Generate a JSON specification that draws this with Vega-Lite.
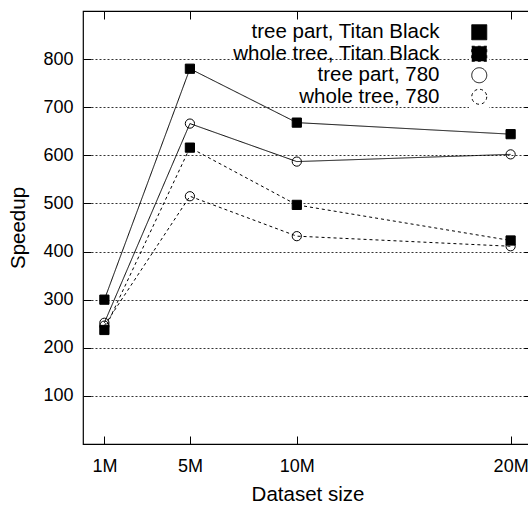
{
  "$schema": "https://vega.github.io/schema/vega-lite/v6.json",
  "width": 449,
  "height": 433,
  "autosize": {"type": "none"},
  "padding": {"left": 83, "top": 11, "right": 0, "bottom": 63},
  "background": "white",
  "config": {
    "font": "Liberation Sans",
    "view": {"stroke": "black", "strokeWidth": 1.2},
    "axis": {
      "labelFont": "Liberation Sans",
      "labelFontSize": 18,
      "labelColor": "black",
      "titleFont": "Liberation Sans",
      "titleFontSize": 20.5,
      "titleFontWeight": "normal",
      "titleColor": "black",
      "tickColor": "black",
      "tickSize": -8,
      "tickWidth": 1,
      "domain": false
    },
    "legend": {
      "orient": "none",
      "legendX": 386,
      "legendY": 11,
      "symbolSize": 225,
      "symbolStrokeWidth": 1,
      "symbolStrokeColor": "black",
      "labelAlign": "right",
      "labelOffset": -50,
      "labelFont": "Liberation Sans",
      "labelFontSize": 20.5,
      "labelColor": "black",
      "labelLimit": 400,
      "rowPadding": 0.5,
      "padding": 0,
      "fillColor": "white"
    }
  },
  "data": {
    "values": [
      {"size": 1, "series": "tree part, Titan Black", "speedup": 300},
      {"size": 5, "series": "tree part, Titan Black", "speedup": 780},
      {"size": 10, "series": "tree part, Titan Black", "speedup": 668},
      {"size": 20, "series": "tree part, Titan Black", "speedup": 644},
      {"size": 1, "series": "whole tree, Titan Black", "speedup": 237},
      {"size": 5, "series": "whole tree, Titan Black", "speedup": 616},
      {"size": 10, "series": "whole tree, Titan Black", "speedup": 497},
      {"size": 20, "series": "whole tree, Titan Black", "speedup": 423},
      {"size": 1, "series": "tree part, 780", "speedup": 252},
      {"size": 5, "series": "tree part, 780", "speedup": 666},
      {"size": 10, "series": "tree part, 780", "speedup": 587},
      {"size": 20, "series": "tree part, 780", "speedup": 602},
      {"size": 1, "series": "whole tree, 780", "speedup": 246},
      {"size": 5, "series": "whole tree, 780", "speedup": 515},
      {"size": 10, "series": "whole tree, 780", "speedup": 432},
      {"size": 20, "series": "whole tree, 780", "speedup": 411}
    ]
  },
  "layer": [
    {
      "mark": {"type": "line", "strokeWidth": 1, "color": "black"},
      "encoding": {
        "x": {
          "field": "size",
          "type": "quantitative",
          "scale": {"domain": [0, 21], "nice": false, "zero": false},
          "axis": {
            "values": [1, 5, 10, 20],
            "labelExpr": "datum.value + 'M'",
            "grid": false,
            "title": "Dataset size",
            "labelPadding": 21,
            "titlePadding": 9
          }
        },
        "y": {
          "field": "speedup",
          "type": "quantitative",
          "scale": {"domain": [0, 900], "nice": false},
          "axis": {
            "values": [100, 200, 300, 400, 500, 600, 700, 800],
            "grid": true,
            "gridDash": [2, 2],
            "gridColor": "#333333",
            "gridWidth": 1,
            "title": "Speedup",
            "labelPadding": 18,
            "titlePadding": 14
          }
        },
        "detail": {"field": "series"},
        "strokeDash": {
          "field": "series",
          "type": "nominal",
          "scale": {
            "domain": ["tree part, Titan Black", "whole tree, Titan Black", "tree part, 780", "whole tree, 780"],
            "range": [[1, 0], [3, 3], [1, 0], [3, 3]]
          },
          "legend": {
            "title": null,
            "encode": {
              "symbols": {
                "update": {
                  "shape": {"signal": "datum.value === 'tree part, Titan Black' ? 'M-4,0H4M-0.667,-0.667H0.667V0.667H-0.667Z' : datum.value === 'whole tree, Titan Black' ? 'M-4,0H-3.67M-3.27,0H-2.93M-2.53,0H-2.2M-1.8,0H-1.47M-1.07,0H-0.73M0.73,0H1.07M1.47,0H1.8M2.2,0H2.53M2.93,0H3.27M3.67,0H4M-0.667,-0.667H0.667V0.667H-0.667Z' : datum.value === 'tree part, 780' ? 'M-4,0H4M-0.667,0A0.667,0.667,0,1,1,0.667,0A0.667,0.667,0,1,1,-0.667,0Z' : 'M-4,0H-3.67M-3.27,0H-2.93M-2.53,0H-2.2M-1.8,0H-1.47M-1.07,0H-0.73M0.73,0H1.07M1.47,0H1.8M2.2,0H2.53M2.93,0H3.27M3.67,0H4M-0.667,0H0.667M-0.667,0A0.667,0.667,0,1,1,0.667,0A0.667,0.667,0,1,1,-0.667,0Z'"},
                  "size": {"value": 225},
                  "stroke": {"value": "black"},
                  "strokeWidth": {"value": 1},
                  "strokeDash": {"value": [1, 0]},
                  "fill": {"signal": "indexof(datum.value, 'Titan') >= 0 ? 'black' : 'transparent'"},
                  "opacity": {"value": 1}
                }
              }
            }
          }
        }
      }
    },
    {
      "mark": {"type": "point", "stroke": "black", "strokeWidth": 1, "opacity": 1, "size": 85},
      "encoding": {
        "x": {"field": "size", "type": "quantitative", "axis": {"orient": "top", "values": [1, 5, 10, 20], "labelExpr": "''", "labelPadding": 0, "ticks": true, "tickSize": -8, "title": null, "grid": false}},
        "y": {"field": "speedup", "type": "quantitative", "axis": {"orient": "right", "values": [100, 200, 300, 400, 500, 600, 700, 800], "labelExpr": "''", "labelPadding": 0, "ticks": true, "tickSize": -8, "title": null, "grid": false}},
        "shape": {
          "field": "series",
          "type": "nominal",
          "scale": {
            "domain": ["tree part, Titan Black", "whole tree, Titan Black", "tree part, 780", "whole tree, 780"],
            "range": ["square", "square", "circle", "circle"]
          },
          "legend": {
            "title": null,
            "encode": {
              "symbols": {
                "update": {
                  "shape": {"signal": "datum.value === 'tree part, Titan Black' ? 'M-4,0H4M-0.667,-0.667H0.667V0.667H-0.667Z' : datum.value === 'whole tree, Titan Black' ? 'M-4,0H-3.67M-3.27,0H-2.93M-2.53,0H-2.2M-1.8,0H-1.47M-1.07,0H-0.73M0.73,0H1.07M1.47,0H1.8M2.2,0H2.53M2.93,0H3.27M3.67,0H4M-0.667,-0.667H0.667V0.667H-0.667Z' : datum.value === 'tree part, 780' ? 'M-4,0H4M-0.667,0A0.667,0.667,0,1,1,0.667,0A0.667,0.667,0,1,1,-0.667,0Z' : 'M-4,0H-3.67M-3.27,0H-2.93M-2.53,0H-2.2M-1.8,0H-1.47M-1.07,0H-0.73M0.73,0H1.07M1.47,0H1.8M2.2,0H2.53M2.93,0H3.27M3.67,0H4M-0.667,0H0.667M-0.667,0A0.667,0.667,0,1,1,0.667,0A0.667,0.667,0,1,1,-0.667,0Z'"},
                  "size": {"value": 225},
                  "stroke": {"value": "black"},
                  "strokeWidth": {"value": 1},
                  "strokeDash": {"value": [1, 0]},
                  "fill": {"signal": "indexof(datum.value, 'Titan') >= 0 ? 'black' : 'transparent'"},
                  "opacity": {"value": 1}
                }
              }
            }
          }
        },
        "fill": {
          "field": "series",
          "type": "nominal",
          "scale": {
            "domain": ["tree part, Titan Black", "whole tree, Titan Black", "tree part, 780", "whole tree, 780"],
            "range": ["black", "black", "transparent", "transparent"]
          },
          "legend": {
            "title": null,
            "encode": {
              "symbols": {
                "update": {
                  "shape": {"signal": "datum.value === 'tree part, Titan Black' ? 'M-4,0H4M-0.667,-0.667H0.667V0.667H-0.667Z' : datum.value === 'whole tree, Titan Black' ? 'M-4,0H-3.67M-3.27,0H-2.93M-2.53,0H-2.2M-1.8,0H-1.47M-1.07,0H-0.73M0.73,0H1.07M1.47,0H1.8M2.2,0H2.53M2.93,0H3.27M3.67,0H4M-0.667,-0.667H0.667V0.667H-0.667Z' : datum.value === 'tree part, 780' ? 'M-4,0H4M-0.667,0A0.667,0.667,0,1,1,0.667,0A0.667,0.667,0,1,1,-0.667,0Z' : 'M-4,0H-3.67M-3.27,0H-2.93M-2.53,0H-2.2M-1.8,0H-1.47M-1.07,0H-0.73M0.73,0H1.07M1.47,0H1.8M2.2,0H2.53M2.93,0H3.27M3.67,0H4M-0.667,0H0.667M-0.667,0A0.667,0.667,0,1,1,0.667,0A0.667,0.667,0,1,1,-0.667,0Z'"},
                  "size": {"value": 225},
                  "stroke": {"value": "black"},
                  "strokeWidth": {"value": 1},
                  "strokeDash": {"value": [1, 0]},
                  "fill": {"signal": "indexof(datum.value, 'Titan') >= 0 ? 'black' : 'transparent'"},
                  "opacity": {"value": 1}
                }
              }
            }
          }
        }
      }
    }
  ],
  "resolve": {"axis": {"x": "independent", "y": "independent"}}
}
